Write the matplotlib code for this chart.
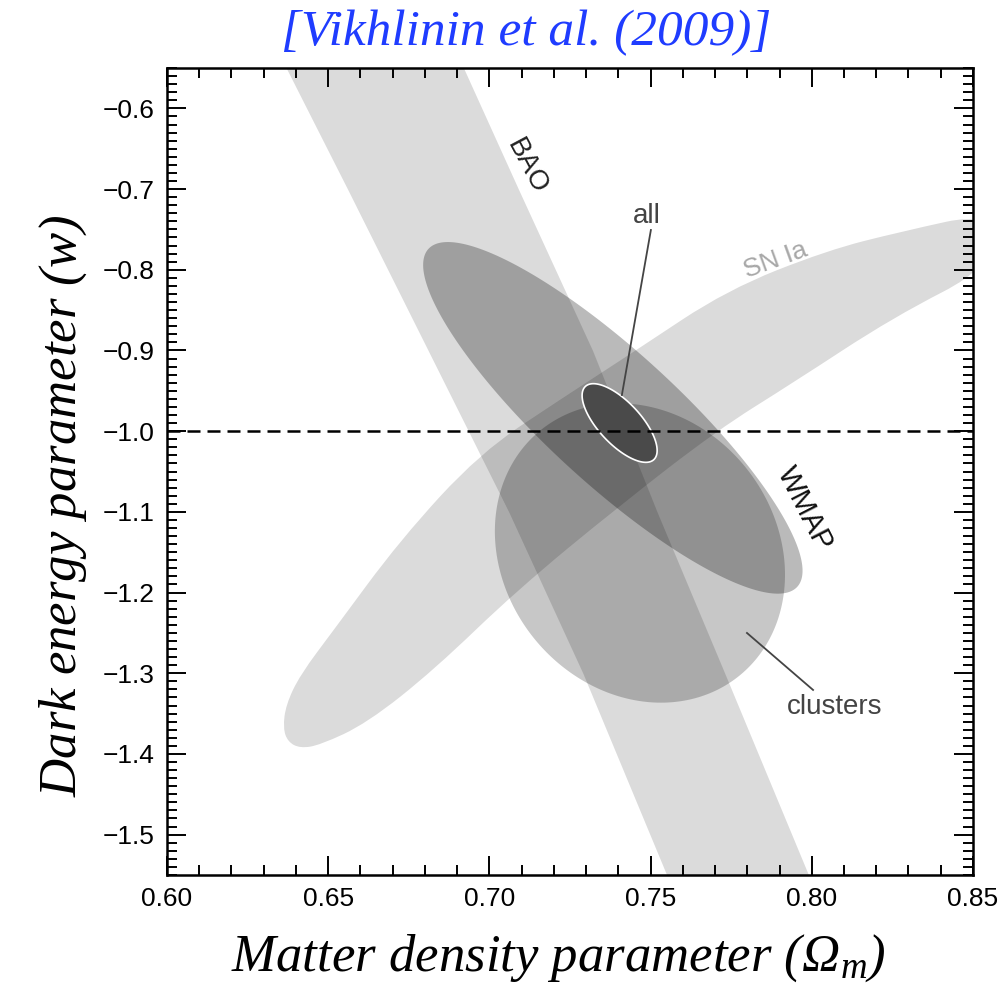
import numpy as np
import matplotlib.pyplot as plt
from matplotlib.path import Path
from matplotlib.patches import PathPatch, Polygon
from matplotlib.ticker import MultipleLocator

plt.rcParams['font.family'] = ['Liberation Sans', 'DejaVu Sans']
plt.rcParams['mathtext.fontset'] = 'custom'
plt.rcParams['mathtext.rm'] = 'Liberation Serif'
plt.rcParams['mathtext.it'] = 'Liberation Serif:italic'

# BAO band: Omega_m of the two edges at a few values of w
bao_w = [-0.55, -0.70, -0.90, -1.10, -1.30, -1.55]
bao_om_lo = [0.637, 0.656, 0.681, 0.706, 0.729, 0.755]
bao_om_hi = [0.692, 0.709, 0.732, 0.752, 0.773, 0.799]

# SN Ia contour outline (Omega_m, w)
sn_om = [0.6369, 0.6413, 0.6518, 0.6723, 0.6971, 0.7219, 0.7458, 0.7737,
         0.8047, 0.8274, 0.8560, 0.8560, 0.8252, 0.7942, 0.7706, 0.7405,
         0.7086, 0.6828, 0.6620, 0.6475, 0.6413, 0.6375, 0.6360]
sn_w = [-1.339, -1.302, -1.246, -1.135, -1.027, -0.961, -0.899, -0.825,
        -0.776, -0.753, -0.728, -0.796, -0.859, -0.940, -0.999, -1.092,
        -1.197, -1.296, -1.362, -1.389, -1.393, -1.385, -1.368]

# ellipses: centre, semi-major and semi-minor vectors in (Omega_m, w)
wmap_c, wmap_a, wmap_b = (0.7383, -0.9835), (0.0572, -0.2094), (0.0138, 0.0602)
clus_c, clus_a, clus_b = (0.7467, -1.1510), (0.0308, -0.1522), (0.0328, 0.1060)
all_c, all_a, all_b = (0.7404, -0.9899), (0.0106, -0.0454), (0.0048, 0.0177)

w_lambda = -1.0


def ellipse_xy(c, a, b, n=300):
    t = np.linspace(0, 2 * np.pi, n)
    x = c[0] + a[0] * np.cos(t) + b[0] * np.sin(t)
    y = c[1] + a[1] * np.cos(t) + b[1] * np.sin(t)
    return np.column_stack([x, y])


def smooth_closed(xs, ys):
    # quadratic bezier through the midpoints, using the outline points as controls
    pts = np.column_stack([xs, ys])
    mids = (pts + np.roll(pts, -1, axis=0)) / 2
    verts = [mids[-1]]
    codes = [Path.MOVETO]
    for p, m in zip(pts, mids):
        verts += [p, m]
        codes += [Path.CURVE3, Path.CURVE3]
    return Path(verts, codes)


fig = plt.figure(figsize=(10.01, 9.89), dpi=100)
ax = fig.add_axes([0.1668, 0.1153, 0.8052, 0.8159])

ax.fill_betweenx(bao_w, bao_om_lo, bao_om_hi, color='black', alpha=0.14, lw=0)
ax.add_patch(PathPatch(smooth_closed(sn_om, sn_w), fc='black', alpha=0.14, lw=0))
ax.add_patch(Polygon(ellipse_xy(clus_c, clus_a, clus_b), closed=True,
                     fc='black', alpha=0.22, lw=0))
ax.add_patch(Polygon(ellipse_xy(wmap_c, wmap_a, wmap_b), closed=True,
                     fc='black', alpha=0.27, lw=0))
ax.add_patch(Polygon(ellipse_xy(all_c, all_a, all_b), closed=True,
                     fc='#4a4a4a', ec='white', lw=1.2, zorder=4))

ax.axhline(w_lambda, color='black', lw=1.8, dashes=(5.2, 2.8), zorder=5)

# labels on the contours
ax.text(0.7117, -0.6727, 'BAO', rotation=-62, ha='center', va='center',
        fontsize=20, color='#222222')
ax.text(0.7979, -1.0965, 'WMAP', rotation=-63, ha='center', va='center',
        fontsize=21, color='#111111')
ax.text(0.7889, -0.7879, 'SN Ia', rotation=20, ha='center', va='center',
        fontsize=19, color='#a8a8a8')
ax.text(0.7489, -0.7334, 'all', ha='center', va='center', fontsize=20,
        color='#444444')
ax.plot([0.7501, 0.7411], [-0.7507, -0.9552], color='#444444', lw=1.3, zorder=6)
ax.text(0.8072, -1.3418, 'clusters', ha='center', va='center', fontsize=20,
        color='#444444')
ax.plot([0.7799, 0.8004], [-1.2501, -1.3207], color='#444444', lw=1.3, zorder=6)

ax.set_xlim(0.60, 0.85)
ax.set_ylim(-1.55, -0.55)
ax.xaxis.set_major_locator(MultipleLocator(0.05))
ax.xaxis.set_minor_locator(MultipleLocator(0.01))
ax.yaxis.set_major_locator(MultipleLocator(0.1))
ax.yaxis.set_minor_locator(MultipleLocator(0.01))
ax.xaxis.set_major_formatter(plt.FormatStrFormatter('%.2f'))
ax.yaxis.set_major_formatter(plt.FuncFormatter(lambda v, p: f'{v:.1f}'.replace('-', '\u2212')))
ax.tick_params(which='both', direction='in', top=True, right=True, width=1.4,
               labelsize=19)
ax.tick_params(which='major', length=14, pad=9)
ax.tick_params(which='minor', length=7)
for s in ax.spines.values():
    s.set_linewidth(1.8)

serif = dict(family='Liberation Serif', style='italic', size=38)
ax.set_xlabel('Matter density parameter (\u03a9$_m$)', **serif)
ax.set_ylabel('Dark energy parameter ($w$)', **serif)
ax.xaxis.set_label_coords(0.486, -0.071)
ax.yaxis.set_label_coords(-0.097, 0.458)

fig.text(0.5255, 0.967, '[Vikhlinin et al. (2009)]', ha='center', va='center',
         family='Liberation Serif', style='italic', size=37, color='#1f3cff')

fig.savefig('out.png', dpi=100)
